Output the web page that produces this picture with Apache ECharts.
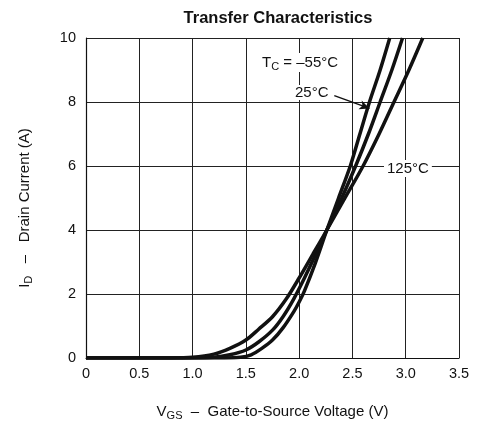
<!DOCTYPE html>
<html>
<head>
<meta charset="utf-8">
<script src="https://cdn.jsdelivr.net/npm/echarts@6/dist/echarts.min.js"></script>
<style>
  html, body { margin: 0; padding: 0; background: #fff; }
</style>
</head>
<body>
<div id="main" style="width: 477px;height:421px;"></div>
<script>
// tick labels
var xTicks = ["0", "0.5", "1.0", "1.5", "2.0", "2.5", "3.0", "3.5"];
var yTicks = ["0", "2", "4", "6", "8", "10"];

// [VGS (V), ID (A)]
var tcMinus55 = [
  [0, 0], [1.0, 0], [1.3, 0], [1.45, 0.02], [1.55, 0.1], [1.65, 0.3], [1.75, 0.56],
  [1.85, 0.95], [1.95, 1.45], [2.0, 1.75], [2.05, 2.1], [2.15, 2.95], [2.26, 4.0],
  [2.37, 5.0], [2.48, 6.0], [2.57, 7.0], [2.66, 8.0], [2.76, 9.0], [2.85, 10]
];
var tc25 = [
  [0, 0], [1.0, 0], [1.2, 0.02], [1.35, 0.1], [1.5, 0.25], [1.62, 0.5], [1.75, 0.87],
  [1.85, 1.3], [1.95, 1.85], [2.05, 2.5], [2.15, 3.2], [2.26, 4.0], [2.40, 5.0],
  [2.53, 6.0], [2.65, 7.0], [2.76, 8.0], [2.87, 9.0], [2.97, 10]
];
var tc125 = [
  [0, 0], [0.8, 0], [1.0, 0.02], [1.2, 0.12], [1.35, 0.3], [1.5, 0.56], [1.62, 0.9],
  [1.75, 1.29], [1.88, 1.85], [2.0, 2.5], [2.13, 3.25], [2.26, 4.0], [2.43, 5.0],
  [2.6, 6.0], [2.75, 7.0], [2.89, 8.0], [3.03, 9.0], [3.16, 10]
];

var font = "'Liberation Sans', Arial, sans-serif";
var ink = "#111";

var chart = echarts.init(document.getElementById("main"));

function curve(name, data) {
  return {
    name: name,
    type: "line",
    data: data,
    smooth: 0.3,
    showSymbol: false,
    symbol: "none",
    lineStyle: { color: ink, width: 3.5 },
    z: 5
  };
}

var series = [
  curve("-55°C", tcMinus55),
  curve("25°C", tc25),
  curve("125°C", tc125)
];

// arrow from the 25°C label to its curve
series[1].markLine = {
  silent: true,
  symbol: ["none", "arrow"],
  symbolSize: [7, 10],
  lineStyle: { color: ink, width: 1.5, type: "solid" },
  label: { show: false },
  data: [[{ coord: [2.33, 8.2] }, { coord: [2.66, 7.8] }]]
};

var subRich = {
  t: { fontFamily: font, fontSize: 15, color: ink },
  s: { fontFamily: font, fontSize: 11, color: ink, padding: [8, 0, 0, 0] }
};

var option = {
  backgroundColor: "#fff",
  animation: false,
  textStyle: { fontFamily: font },
  title: {
    text: "Transfer Characteristics",
    left: 273,
    top: 5,
    textAlign: "center",
    textStyle: { fontFamily: font, fontSize: 16.5, fontWeight: "bold", color: ink }
  },
  grid: { left: 86, right: 18, top: 38, bottom: 63, outerBoundsMode: "none", containLabel: false },
  xAxis: {
    type: "value",
    min: 0,
    max: 3.5,
    interval: 0.5,
    name: "{t|V}{s|GS}{t|  –  Gate-to-Source Voltage (V)}",
    nameLocation: "middle",
    nameGap: 44,
    nameTextStyle: { rich: subRich },
    axisLine: { show: true, lineStyle: { color: ink, width: 1.2 } },
    axisTick: { show: false },
    axisLabel: {
      color: ink,
      fontSize: 14.5,
      fontFamily: font,
      margin: 8,
      formatter: function (v) {
        return xTicks[Math.round(v / 0.5)];
      }
    },
    splitLine: { show: true, lineStyle: { color: "#222", width: 1 } }
  },
  yAxis: {
    type: "value",
    min: 0,
    max: 10,
    interval: 2,
    name: "{t|I}{s|D}{t|   –   Drain Current (A)}",
    nameLocation: "middle",
    nameGap: 52,
    nameRotate: 90,
    nameTextStyle: { rich: subRich, padding: [0, 20, 0, 0] },
    axisLine: { show: true, lineStyle: { color: ink, width: 1.2 } },
    axisTick: { show: false },
    axisLabel: {
      color: ink,
      fontSize: 14.5,
      fontFamily: font,
      margin: 10,
      formatter: function (v) {
        return yTicks[Math.round(v / 2)];
      }
    },
    splitLine: { show: true, lineStyle: { color: "#222", width: 1 } }
  },
  series: series,
  graphic: [
    {
      type: "text",
      left: 262,
      top: 53,
      z: 10,
      style: {
        text: "{t|T}{s|C}{t| = –55°C}",
        fill: ink,
        backgroundColor: "#fff",
        rich: {
          t: { fontFamily: font, fontSize: 15, fill: ink },
          s: { fontFamily: font, fontSize: 11, fill: ink, padding: [8, 0, 0, 0] }
        }
      }
    },
    {
      type: "text",
      left: 295,
      top: 85,
      z: 10,
      style: { text: "25°C", fontFamily: font, fontSize: 15, fill: ink, backgroundColor: "#fff" }
    },
    {
      type: "text",
      left: 384,
      top: 160,
      z: 10,
      style: {
        text: "125°C",
        fontFamily: font,
        fontSize: 15,
        fill: ink,
        backgroundColor: "#fff",
        padding: [1, 3, 1, 3]
      }
    }
  ]
};

option && chart.setOption(option);
</script>
</body>
</html>
